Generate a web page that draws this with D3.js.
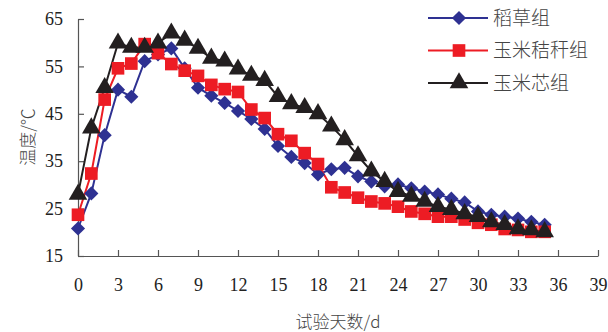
<!DOCTYPE html>
<html><head><meta charset="utf-8">
<script src="https://cdn.jsdelivr.net/npm/d3@7"></script>
<style>body{margin:0;background:#fff}svg{display:block}</style>
</head><body>
<svg id="c" width="608" height="332"></svg>
<script>
const days = d3.range(0, 36);
const xTicks = [0,3,6,9,12,15,18,21,24,27,30,33,36,39];
const yTicks = [15,25,35,45,55,65];
const seriesNames = ["稻草组","玉米秸秆组","玉米芯组"];
const straw = [20.8,28.2,40.5,50.1,48.6,56.1,57.5,58.8,54.6,50.5,48.8,47.3,45.6,43.9,41.8,38.2,35.9,34.6,32.2,33.3,33.6,31.8,30.7,29.7,30.1,29.3,28.6,28.0,27.1,26.3,24.4,23.7,23.3,22.9,22.2,21.6];
const stalk = [23.7,32.4,48.0,54.6,55.6,59.7,57.8,55.5,54.1,53.0,51.1,50.2,49.6,45.9,44.1,40.7,39.3,36.7,34.4,29.5,28.4,27.3,26.5,26.1,25.4,24.4,23.9,23.3,23.3,22.7,22.0,21.6,20.7,20.5,20.1,20.1];
const cob = [28.0,42.0,50.5,59.9,59.0,59.0,59.9,62.0,60.5,58.8,56.7,56.1,54.4,53.1,52.0,48.6,47.1,46.3,45.0,42.4,39.5,36.1,32.9,30.7,28.6,27.6,26.5,25.4,24.8,23.9,23.3,22.2,21.6,20.7,20.5,20.1];
const colors = ["#2e3192","#ed1c24","#231f20"];
const symbols = [d3.symbolSquare, d3.symbolSquare, d3.symbolTriangle];
const symRot = [45, 0, 0];
const symSizes = [100, 160, 150];

const svg = d3.select("#c");
const x = d3.scaleLinear().domain([0,39]).range([78,598]);
const y = d3.scaleLinear().domain([15,65]).range([256,19]);
const axisColor = "#555";
const numFont = "'Liberation Serif','Times New Roman',serif";
const cjkFont = "'Noto Sans CJK SC','Noto Sans CJK JP',sans-serif";

const gx = svg.append("g").attr("transform",`translate(0,${y(15)})`)
  .call(d3.axisBottom(x).tickValues(xTicks).tickSizeInner(-6).tickSizeOuter(0).tickPadding(22));
const gy = svg.append("g").attr("transform",`translate(${x(0)},0)`)
  .call(d3.axisLeft(y).tickValues(yTicks).tickSizeInner(-6).tickSizeOuter(0).tickPadding(15));
[gx,gy].forEach(g=>{
  g.selectAll("path,line").attr("stroke",axisColor).attr("stroke-width",1.2);
  g.selectAll("text").attr("font-family",numFont).attr("font-size",18).attr("fill","#222");
});

const data = [straw, stalk, cob];
data.forEach((vals,i)=>{
  const line = d3.line().x((d,j)=>x(days[j])).y(d=>y(d));
  svg.append("path").datum(vals).attr("d",line).attr("fill","none")
    .attr("stroke",colors[i]).attr("stroke-width",2);
});
data.forEach((vals,i)=>{
  svg.append("g").selectAll("path").data(vals).join("path")
    .attr("transform",(d,j)=>`translate(${x(days[j])},${y(d)}) rotate(${symRot[i]})`)
    .attr("d",d3.symbol().type(symbols[i]).size(symSizes[i]))
    .attr("fill",colors[i]);
});

// legend
const lg = svg.append("g");
seriesNames.forEach((n,i)=>{
  const yy = 18 + i*32.5;
  lg.append("line").attr("x1",428).attr("x2",488).attr("y1",yy).attr("y2",yy)
    .attr("stroke",colors[i]).attr("stroke-width",2);
  lg.append("path").attr("transform",`translate(459,${yy}) rotate(${symRot[i]})`)
    .attr("d",d3.symbol().type(symbols[i]).size(symSizes[i])).attr("fill",colors[i]);
  lg.append("text").attr("x",493).attr("y",yy).attr("dy","0.36em")
    .attr("font-family",cjkFont).attr("font-size",19).attr("font-weight",300).attr("fill","#444").text(n);
});

svg.append("text").attr("transform",`translate(28,137) rotate(-90)`)
  .attr("text-anchor","middle").attr("dy","0.36em")
  .attr("font-family",cjkFont).attr("font-size",17).attr("font-weight",300).attr("fill","#444").text("温度/℃");
svg.append("text").attr("x",338).attr("y",322).attr("text-anchor","middle").attr("dy","0.36em")
  .attr("font-family",cjkFont).attr("font-size",17).attr("font-weight",300).attr("fill","#444").text("试验天数/d");
</script>
</body></html>
